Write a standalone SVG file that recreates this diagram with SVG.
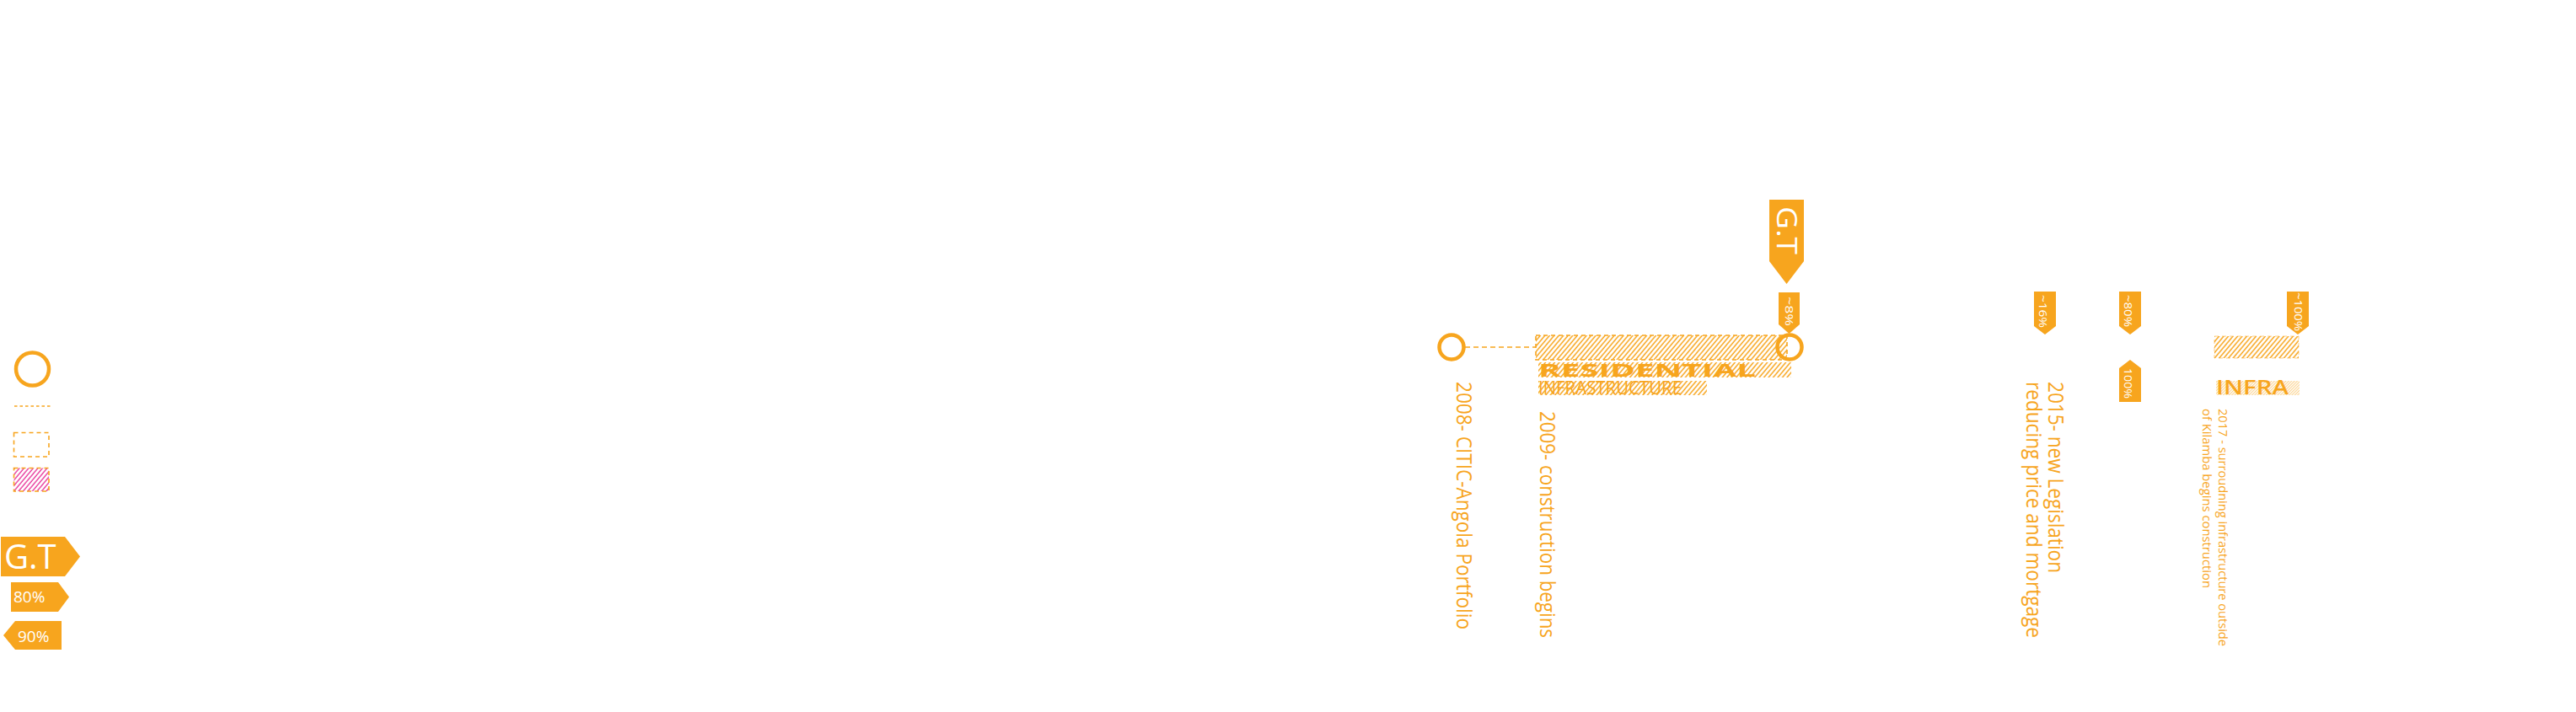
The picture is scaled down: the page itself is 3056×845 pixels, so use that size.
<svg xmlns="http://www.w3.org/2000/svg" width="3056" height="845" viewBox="0 0 3056 845">
<defs>
<pattern id="hatch" width="4.2" height="4.2" patternUnits="userSpaceOnUse" patternTransform="rotate(40)"><line x1="1" y1="0" x2="1" y2="4.2" stroke="#F7A51E" stroke-width="1.5"/></pattern>
<pattern id="hatchPink" width="4.2" height="4.2" patternUnits="userSpaceOnUse" patternTransform="rotate(40)"><line x1="1" y1="0" x2="1" y2="4.2" stroke="#E8379B" stroke-width="1.4"/></pattern>
<pattern id="fine" width="2.4" height="2.4" patternUnits="userSpaceOnUse" patternTransform="rotate(45)"><line x1="0.6" y1="0" x2="0.6" y2="2.4" stroke="#F7A51E" stroke-width="0.9" opacity="0.6"/></pattern>
<style>
.o{fill:#F7A51E}
.node{fill:none;stroke:#F7A51E;stroke-width:4.5}
.dash{fill:none;stroke:#F7A51E;stroke-width:1.5;stroke-dasharray:6 4}
.rectd{stroke:#F7A51E;stroke-width:1.6;stroke-dasharray:5 4}
.lbl{font-family:"Open Sans","Noto Sans",sans-serif;fill:#F7A51E}
.tag{font-family:"Open Sans","Noto Sans",sans-serif;fill:#FFFFFF}
</style>
</defs>
<rect width="3056" height="845" fill="#FFFFFF"/>

<!-- Legend -->
<g id="legend">
  <g id="legend-node"><circle class="node" cx="38.5" cy="438" r="19.5" stroke-width="5"/></g>
  <g id="legend-line"><line x1="17" y1="482" x2="60" y2="482" stroke="#F7A51E" stroke-width="1.3" stroke-dasharray="3.5 3"/></g>
  <g id="legend-rect"><rect x="16.5" y="513.5" width="41.5" height="28.5" fill="none" class="rectd"/></g>
  <g id="legend-hatch"><rect x="16.5" y="555.5" width="41.5" height="27.5" fill="url(#hatchPink)" class="rectd"/></g>
  <g id="legend-gt"><path class="o" d="M1,637 H77 L95,660.5 L77,684 H1 Z"/><text class="tag" x="5" y="675" font-size="40">G.T</text></g>
  <g id="legend-80"><path class="o" d="M13,691 H69 L82,708.5 L69,726 H13 Z"/><text class="tag" x="16" y="715" font-size="19">80%</text></g>
  <g id="legend-90"><path class="o" d="M4,754 L18,737 H73 V771 H18 Z"/><text class="tag" x="21" y="762" font-size="19">90%</text></g>
</g>

<!-- Connectors -->
<g id="connectors">
  <line class="dash" x1="1738" y1="412" x2="1822" y2="412"/>
</g>

<!-- Residential block -->
<g id="residential">
  <rect x="1822" y="398" width="298" height="29" fill="url(#hatch)" class="rectd"/>
  <rect x="1825" y="430" width="300" height="18" fill="url(#hatch)"/>
  <text class="lbl" x="1825" y="447" font-size="21" font-weight="bold" textLength="258" lengthAdjust="spacingAndGlyphs" font-family="Liberation Sans, sans-serif">RESIDENTIAL</text>
  <rect x="1825" y="452" width="200" height="17" fill="url(#hatch)"/>
  <text class="lbl" x="1825" y="468" font-size="21" textLength="170" lengthAdjust="spacingAndGlyphs" font-family="Liberation Sans, sans-serif">INFRASTRUCTURE</text>
</g>

<!-- Infra block -->
<g id="infra">
  <rect x="2627" y="399" width="100" height="26" fill="url(#hatch)" stroke="#F7A51E" stroke-width="1" stroke-dasharray="5 4" stroke-opacity="0.5"/>
  <rect x="2629" y="452" width="99" height="17" fill="url(#fine)"/>
  <text class="lbl" x="2629" y="468" font-size="24" font-weight="600" textLength="86" lengthAdjust="spacingAndGlyphs">INFRA</text>
</g>

<!-- Nodes -->
<g id="node-2008"><circle class="node" cx="1722" cy="412" r="14.5"/>
  <text class="lbl" transform="translate(1728,453) rotate(90)" font-size="25" textLength="294" lengthAdjust="spacingAndGlyphs">2008- CITIC-Angola Portfolio</text>
</g>
<g id="node-2009"><circle class="node" cx="2123" cy="412" r="14.5"/>
  <text class="lbl" transform="translate(1827,488) rotate(90)" font-size="25" textLength="269" lengthAdjust="spacingAndGlyphs">2009- construction begins</text>
</g>

<!-- Tags -->
<g id="tag-gt"><path class="o" d="M2099,237 H2140 V310 L2119.5,337 L2099,310 Z"/>
  <text class="tag" transform="translate(2108,245) rotate(90)" font-size="33" textLength="57" lengthAdjust="spacingAndGlyphs">G.T</text></g>
<g id="tag-8"><path class="o" d="M2110,347 H2135 V385 L2122.5,396 L2110,385 Z"/>
  <text class="tag" transform="translate(2118,352) rotate(90)" font-size="13" textLength="35" lengthAdjust="spacingAndGlyphs">~8%</text></g>
<g id="tag-16"><path class="o" d="M2413,346 H2439 V387 L2426,397 L2413,387 Z"/>
  <text class="tag" transform="translate(2419,350) rotate(90)" font-size="13" textLength="39" lengthAdjust="spacingAndGlyphs">~16%</text></g>
<g id="tag-80"><path class="o" d="M2514,346 H2540 V387 L2527,397 L2514,387 Z"/>
  <text class="tag" transform="translate(2520,350) rotate(90)" font-size="13" textLength="38" lengthAdjust="spacingAndGlyphs">~80%</text></g>
<g id="tag-100"><path class="o" d="M2514,437 L2527,427 L2540,437 V477 H2514 Z"/>
  <text class="tag" transform="translate(2520,437) rotate(90)" font-size="13" textLength="36" lengthAdjust="spacingAndGlyphs">100%</text></g>
<g id="tag-100b"><path class="o" d="M2713,346 H2739 V387 L2726,397 L2713,387 Z"/>
  <text class="tag" transform="translate(2722,347) rotate(90)" font-size="13" textLength="46" lengthAdjust="spacingAndGlyphs">~100%</text></g>

<!-- Labels -->
<g id="label-2015">
  <text class="lbl" transform="translate(2430,453) rotate(90)" font-size="25" textLength="227" lengthAdjust="spacingAndGlyphs">2015- new Legislation</text>
  <text class="lbl" transform="translate(2404,453) rotate(90)" font-size="25" textLength="304" lengthAdjust="spacingAndGlyphs">reducing price and mortgage</text>
</g>
<g id="label-2017">
  <text class="lbl" transform="translate(2632,485) rotate(90)" font-size="15" textLength="282" lengthAdjust="spacingAndGlyphs">2017 - surroudning infrastructure outside</text>
  <text class="lbl" transform="translate(2613,485) rotate(90)" font-size="15" textLength="213" lengthAdjust="spacingAndGlyphs">of Kilamba begins construction</text>
</g>
</svg>
